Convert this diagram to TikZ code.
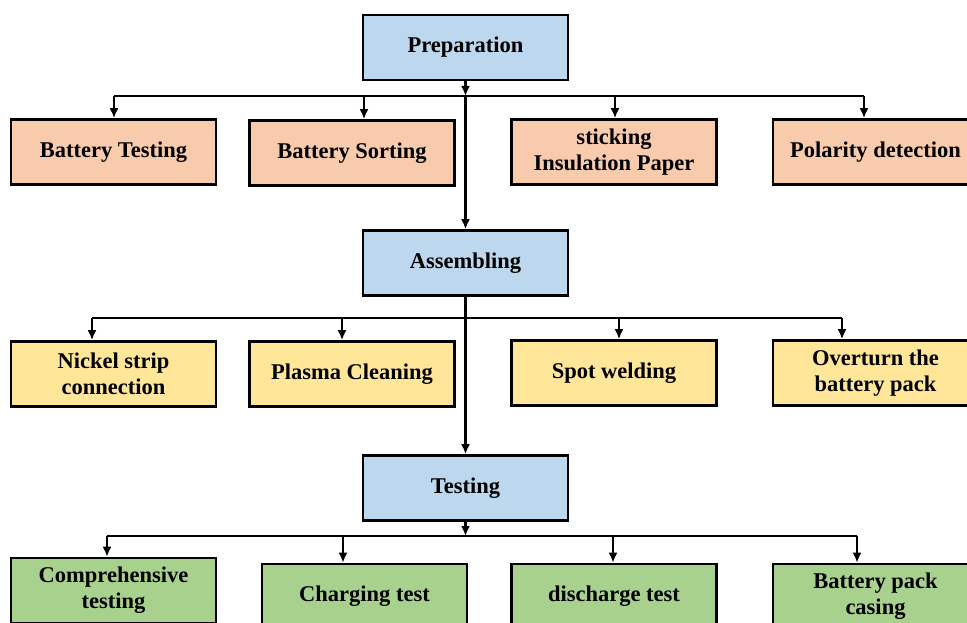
\documentclass[tikz,border=0pt]{standalone}
\usepackage{fontspec}
\setmainfont{Liberation Serif}
\usepackage{xcolor}
\usepackage{tikz}
\usetikzlibrary{arrows.meta}
\definecolor{StageBlue}{HTML}{BDD7EE}
\definecolor{PrepOrange}{HTML}{F8CBAD}
\definecolor{AsmYellow}{HTML}{FFE699}
\definecolor{TestGreen}{HTML}{A9D18E}

\tikzset{
    stagebox/.style={draw=black,line width=2.6pt,minimum width=205pt,minimum height=65pt,
        align=center,inner sep=2pt,font=\fontsize{22.5}{26}\selectfont\bfseries},
    bus/.style={line width=2.4pt},
    link/.style={line width=2.4pt,-{Latex[length=10pt,width=9pt]}}
}

\begin{document}
\begin{tikzpicture}[x=1pt,y=-1pt]
    \useasboundingbox (0,0) rectangle (967,623);
    % main stages
    \node[stagebox,fill=StageBlue] (prep) at (465.5,47.5) {Preparation};
    \node[stagebox,fill=StageBlue] (asm) at (465.5,263) {Assembling};
    \node[stagebox,fill=StageBlue] (test) at (465.5,488) {Testing};
    % preparation steps
    \node[stagebox,fill=PrepOrange] (prepA) at (113.5,152) {Battery Testing};
    \node[stagebox,fill=PrepOrange] (prepB) at (352,153) {Battery Sorting};
    \node[stagebox,fill=PrepOrange] (prepC) at (614,152) {sticking\\Insulation Paper};
    \node[stagebox,fill=PrepOrange] (prepD) at (875.5,152) {Polarity detection};
    % assembling steps
    \node[stagebox,fill=AsmYellow] (asmA) at (113.5,374) {Nickel strip\\connection};
    \node[stagebox,fill=AsmYellow] (asmB) at (352,374) {Plasma Cleaning};
    \node[stagebox,fill=AsmYellow] (asmC) at (614,373) {Spot welding};
    \node[stagebox,fill=AsmYellow] (asmD) at (875.5,373) {Overturn the\\battery pack};
    % testing steps
    \node[stagebox,fill=TestGreen] (testA) at (113.5,590.5) {Comprehensive\\testing};
    \node[stagebox,fill=TestGreen] (testB) at (364.5,596.5) {Charging test};
    \node[stagebox,fill=TestGreen] (testC) at (614,596.5) {discharge test};
    \node[stagebox,fill=TestGreen] (testD) at (875.5,596.5) {Battery pack\\casing};

    % bus points
    \coordinate (busP) at (465.5,96);
    \coordinate (busA) at (465.5,318);
    \coordinate (busT) at (465.5,536);
    \coordinate (pA) at (114,96);
    \coordinate (pB) at (364,96);
    \coordinate (pC) at (615,96);
    \coordinate (pD) at (864,96);
    \coordinate (aA) at (92,318);
    \coordinate (aB) at (342,318);
    \coordinate (aC) at (619,318);
    \coordinate (aD) at (842,318);
    \coordinate (tA) at (107,536);
    \coordinate (tB) at (343,536);
    \coordinate (tC) at (613,536);
    \coordinate (tD) at (857,536);

    % main line
    \draw[link] (prep) -- (busP);
    \draw[link] (busP) -- (asm);
    \draw[bus] (asm) -- (busA);
    \draw[link] (busA) -- (test);
    \draw[link] (test) -- (busT);

    % branches
    \draw[bus] (pA) -- (pD);
    \draw[bus] (aA) -- (aD);
    \draw[bus] (tA) -- (tD);
    \draw[link] (pA) -- (pA |- prepA.north);
    \draw[link] (pB) -- (pB |- prepB.north);
    \draw[link] (pC) -- (pC |- prepC.north);
    \draw[link] (pD) -- (pD |- prepD.north);
    \draw[link] (aA) -- (aA |- asmA.north);
    \draw[link] (aB) -- (aB |- asmB.north);
    \draw[link] (aC) -- (aC |- asmC.north);
    \draw[link] (aD) -- (aD |- asmD.north);
    \draw[link] (tA) -- (tA |- testA.north);
    \draw[link] (tB) -- (tB |- testB.north);
    \draw[link] (tC) -- (tC |- testC.north);
    \draw[link] (tD) -- (tD |- testD.north);
\end{tikzpicture}
\end{document}
